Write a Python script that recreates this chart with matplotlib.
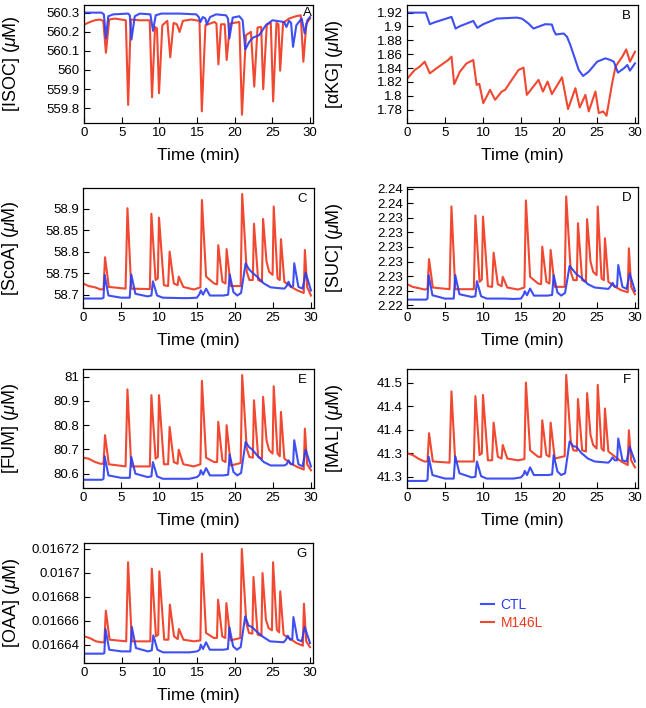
import matplotlib
matplotlib.use("Agg")
import matplotlib.pyplot as plt

plt.rcParams["font.family"] = ["Liberation Sans", "DejaVu Sans"]
plt.rcParams["mathtext.fontset"] = "custom"
plt.rcParams["mathtext.rm"] = "Liberation Sans"
plt.rcParams["mathtext.it"] = "Liberation Sans:italic"

# ============================================================
# DATA
# ============================================================

# panel A - isocitrate
isoc_t_ctl = [0, 2.33, 2.64, 2.91, 3.22, 3.88, 5.86, 6.08, 6.3, 6.74, 7.4, 8.81, 9.16, 9.52, 10.26,
              12.69, 14.89, 15.24, 15.46, 15.77, 16.12, 16.3, 16.74, 17.53, 18.85, 19.12, 19.3, 19.74,
              20.62, 21.06, 21.41, 21.94, 22.47, 23.26, 24.14, 25.02, 26.56, 26.87, 27.22, 27.49, 27.75,
              28.19, 28.9, 29.3, 29.65, 30.0]
isoc_ctl = [560.300, 560.300, 560.291, 560.165, 560.281, 560.291, 560.295, 560.286, 560.159, 560.281,
            560.295, 560.291, 560.205, 560.286, 560.295, 560.295, 560.291, 560.277, 560.251, 560.277,
            560.269, 560.239, 560.277, 560.291, 560.286, 560.269, 560.165, 560.274, 560.281, 560.260,
            560.107, 560.147, 560.170, 560.182, 560.234, 560.260, 560.251, 560.225, 560.257, 560.246,
            560.121, 560.234, 560.269, 560.191, 560.260, 560.277]
isoc_t_mut = [0, 0.79, 1.45, 2.11, 2.56, 2.91, 3.35, 4.1, 5.55, 5.86, 6.21, 7.4, 8.72, 9.03, 9.43,
              9.69, 9.96, 10.4, 11.06, 11.45, 11.89, 12.33, 12.69, 13.13, 14.23, 15.33, 15.64, 16.12,
              17.31, 17.58, 17.84, 18.19, 18.68, 18.94, 19.38, 20.62, 20.97, 21.5, 22.16, 22.6, 23.04,
              23.52, 23.79, 24.27, 24.8, 25.11, 25.55, 25.81, 26.04, 26.43, 27.22, 28.11, 28.77, 29.12,
              29.52, 30.0]
isoc_mut = [560.237, 560.251, 560.260, 560.264, 560.257, 560.090, 560.264, 560.269, 560.260, 559.817,
            560.264, 560.260, 560.260, 559.857, 560.225, 560.217, 559.878, 560.234, 560.257, 560.066,
            560.246, 560.239, 560.199, 560.257, 560.264, 560.257, 559.783, 560.234, 560.251, 560.243,
            560.029, 560.239, 560.239, 560.052, 560.243, 560.251, 559.765, 560.182, 560.199, 559.913,
            560.222, 560.225, 559.899, 560.239, 560.246, 559.835, 560.246, 560.239, 559.996, 560.246,
            560.269, 560.281, 560.286, 560.043, 560.243, 560.269]

# panel B - alpha-ketoglutarate
akg_t_ctl = [0, 2.47, 3.0, 3.66, 5.86, 6.39, 6.96, 8.72, 9.25, 10.04, 11.81, 14.45, 15.11, 15.55,
             15.99, 16.65, 18.19, 19.07, 19.3, 19.6, 20.62, 21.06, 21.5, 21.94, 22.6, 23.17, 23.92,
             25.02, 26.12, 26.78, 27.22, 27.75, 28.55, 28.99, 29.34, 30.0]
akg_ctl = [1.9200, 1.9200, 1.9033, 1.9061, 1.9138, 1.8970, 1.9004, 1.9080, 1.8980, 1.9033,
           1.9114, 1.9128, 1.9114, 1.9080, 1.9042, 1.8970, 1.9033, 1.9028, 1.8946, 1.8884,
           1.8899, 1.8851, 1.8731, 1.8588, 1.8372, 1.8286, 1.8348, 1.8492, 1.8540, 1.8516,
           1.8492, 1.8334, 1.8396, 1.8444, 1.8363, 1.8468]
akg_t_mut = [0, 1.01, 1.67, 2.33, 3.0, 3.88, 5.42, 5.86, 6.21, 6.96, 7.84, 8.72, 9.16, 9.52, 10.04,
             10.93, 11.59, 12.47, 12.91, 14.67, 15.33, 15.77, 17.31, 17.89, 18.5, 19.07, 20.4, 21.19,
             22.16, 22.73, 23.48, 23.92, 24.8, 25.24, 25.81, 26.26, 27.0, 27.44, 28.33, 28.85, 29.34,
             30.0]
akg_mut = [1.8243, 1.8372, 1.8420, 1.8492, 1.8324, 1.8396, 1.8516, 1.8564, 1.8166, 1.8348,
           1.8468, 1.8516, 1.8157, 1.8171, 1.7894, 1.8085, 1.7942, 1.8061, 1.8085, 1.8372,
           1.8406, 1.8013, 1.8229, 1.8061, 1.8205, 1.8023, 1.8267, 1.7808, 1.8109, 1.7831,
           1.8013, 1.7774, 1.8061, 1.7750, 1.7774, 1.7712, 1.8181, 1.8420, 1.8564, 1.8669,
           1.8492, 1.8635]

# panels C-G share their sample times
t_ctl = [0, 2.5, 2.7, 2.85, 3.35, 5.0, 6.15, 6.35, 6.9, 8.5,
         9.0, 9.2, 9.75, 10.5, 13.0, 14.0, 15.0, 15.35, 15.5, 15.8,
         16.2, 16.7, 18.5, 19.1, 19.3, 19.8, 20.3, 20.8, 21.4, 21.85,
         22.3, 22.9, 23.8, 24.7, 26.5, 26.8, 27.05, 27.35, 27.65, 27.8,
         28.35, 28.9, 29.3, 30.0]
t_mut = [0, 0.75, 1.6, 2.3, 2.7, 2.9, 3.4, 5.6, 5.85, 6.35,
         8.8, 9.0, 9.55, 9.85, 10.0, 10.65, 11.2, 11.4, 11.95, 12.45,
         12.6, 13.2, 14.6, 15.45, 15.65, 16.2, 17.25, 17.65, 17.8, 18.35,
         18.75, 18.9, 19.45, 20.75, 20.95, 21.55, 21.9, 22.35, 22.5, 23.05,
         23.55, 23.7, 24.15, 24.5, 24.95, 25.1, 25.6, 25.9, 26.05, 26.5,
         27.4, 28.2, 29.05, 29.2, 29.5, 30.0]

scoa_ctl = [58.691, 58.691, 58.693, 58.746, 58.698, 58.693, 58.693, 58.747, 58.702, 58.696,
            58.698, 58.731, 58.698, 58.693, 58.692, 58.692, 58.693, 58.702, 58.710, 58.700,
            58.714, 58.698, 58.698, 58.700, 58.747, 58.706, 58.698, 58.704, 58.773, 58.759,
            58.751, 58.742, 58.726, 58.717, 58.714, 58.720, 58.730, 58.718, 58.720, 58.773,
            58.718, 58.714, 58.751, 58.710]
scoa_mut = [58.726, 58.720, 58.717, 58.712, 58.713, 58.787, 58.718, 58.714, 58.901, 58.714,
            58.713, 58.888, 58.734, 58.738, 58.879, 58.722, 58.720, 58.800, 58.726, 58.722,
            58.742, 58.718, 58.712, 58.717, 58.920, 58.742, 58.726, 58.724, 58.815, 58.730,
            58.726, 58.806, 58.720, 58.720, 58.934, 58.753, 58.734, 58.734, 58.865, 58.734,
            58.730, 58.876, 58.777, 58.753, 58.746, 58.905, 58.738, 58.734, 58.829, 58.730,
            58.718, 58.710, 58.704, 58.804, 58.718, 58.698]

suc_ctl = [2.22278, 2.22278, 2.22292, 2.22614, 2.22338, 2.22292, 2.22292, 2.22614, 2.22352, 2.22315,
           2.22324, 2.22531, 2.22324, 2.22292, 2.22292, 2.22287, 2.22292, 2.22347, 2.22393, 2.22338,
           2.22430, 2.22333, 2.22333, 2.22342, 2.22614, 2.22375, 2.22333, 2.22370, 2.22742, 2.22683,
           2.22627, 2.22582, 2.22490, 2.22444, 2.22425, 2.22462, 2.22508, 2.22453, 2.22462, 2.22752,
           2.22453, 2.22425, 2.22637, 2.22398]
suc_mut = [2.22490, 2.22453, 2.22434, 2.22416, 2.22425, 2.22834, 2.22444, 2.22421, 2.23556, 2.22421,
           2.22421, 2.23432, 2.22522, 2.22554, 2.23418, 2.22462, 2.22453, 2.22922, 2.22490, 2.22462,
           2.22591, 2.22444, 2.22416, 2.22444, 2.23639, 2.22591, 2.22499, 2.22490, 2.23005, 2.22522,
           2.22499, 2.22959, 2.22453, 2.22453, 2.23694, 2.22660, 2.22545, 2.22545, 2.23326, 2.22545,
           2.22522, 2.23382, 2.22798, 2.22660, 2.22614, 2.23556, 2.22568, 2.22545, 2.23120, 2.22522,
           2.22453, 2.22407, 2.22379, 2.22982, 2.22453, 2.22352]

fum_ctl = [80.575, 80.575, 80.579, 80.672, 80.593, 80.583, 80.583, 80.669, 80.600, 80.586,
           80.589, 80.648, 80.589, 80.579, 80.579, 80.579, 80.586, 80.596, 80.614, 80.596,
           80.623, 80.593, 80.593, 80.596, 80.679, 80.607, 80.593, 80.603, 80.731, 80.710,
           80.699, 80.676, 80.648, 80.634, 80.634, 80.639, 80.655, 80.639, 80.639, 80.738,
           80.639, 80.630, 80.699, 80.630]
fum_mut = [80.666, 80.662, 80.648, 80.641, 80.641, 80.759, 80.639, 80.630, 80.948, 80.630,
           80.630, 80.924, 80.662, 80.669, 80.924, 80.639, 80.639, 80.793, 80.648, 80.641,
           80.699, 80.639, 80.630, 80.639, 80.983, 80.666, 80.648, 80.648, 80.814, 80.655,
           80.648, 80.800, 80.634, 80.644, 81.007, 80.703, 80.669, 80.666, 80.903, 80.669,
           80.662, 80.917, 80.738, 80.697, 80.683, 80.961, 80.683, 80.672, 80.855, 80.662,
           80.641, 80.628, 80.617, 80.786, 80.639, 80.614]

mal_ctl = [41.293, 41.293, 41.295, 41.334, 41.303, 41.297, 41.297, 41.335, 41.306, 41.299,
           41.300, 41.326, 41.301, 41.297, 41.297, 41.297, 41.299, 41.304, 41.310, 41.303,
           41.316, 41.303, 41.303, 41.304, 41.337, 41.309, 41.303, 41.306, 41.360, 41.352,
           41.351, 41.341, 41.331, 41.326, 41.324, 41.328, 41.333, 41.328, 41.328, 41.365,
           41.328, 41.326, 41.351, 41.326]
mal_mut = [41.340, 41.337, 41.330, 41.326, 41.326, 41.374, 41.326, 41.324, 41.445, 41.326,
           41.326, 41.437, 41.337, 41.340, 41.439, 41.328, 41.328, 41.392, 41.334, 41.331,
           41.354, 41.331, 41.328, 41.330, 41.460, 41.345, 41.334, 41.334, 41.396, 41.337,
           41.334, 41.392, 41.331, 41.335, 41.473, 41.360, 41.345, 41.344, 41.432, 41.345,
           41.343, 41.442, 41.371, 41.354, 41.348, 41.456, 41.348, 41.344, 41.416, 41.343,
           41.334, 41.326, 41.320, 41.379, 41.328, 41.316]

oaa_ctl = [0.0166325, 0.0166325, 0.0166330, 0.0166531, 0.0166358, 0.0166344, 0.0166344, 0.0166548, 0.0166372, 0.0166344,
           0.0166353, 0.0166478, 0.0166358, 0.0166336, 0.0166336, 0.0166336, 0.0166344, 0.0166358, 0.0166400, 0.0166364,
           0.0166420, 0.0166358, 0.0166358, 0.0166364, 0.0166545, 0.0166386, 0.0166358, 0.0166380, 0.0166637, 0.0166559,
           0.0166548, 0.0166511, 0.0166464, 0.0166428, 0.0166420, 0.0166442, 0.0166475, 0.0166442, 0.0166447, 0.0166631,
           0.0166442, 0.0166428, 0.0166548, 0.0166414]
oaa_mut = [0.0166470, 0.0166456, 0.0166428, 0.0166420, 0.0166420, 0.0166684, 0.0166442, 0.0166428, 0.0167089, 0.0166428,
           0.0166428, 0.0167036, 0.0166470, 0.0166484, 0.0167013, 0.0166442, 0.0166442, 0.0166735, 0.0166470, 0.0166447,
           0.0166531, 0.0166442, 0.0166428, 0.0166436, 0.0167161, 0.0166498, 0.0166456, 0.0166456, 0.0166776, 0.0166470,
           0.0166456, 0.0166748, 0.0166436, 0.0166456, 0.0167200, 0.0166581, 0.0166498, 0.0166492, 0.0166966, 0.0166484,
           0.0166475, 0.0166999, 0.0166609, 0.0166539, 0.0166520, 0.0167089, 0.0166525, 0.0166503, 0.0166846, 0.0166484,
           0.0166447, 0.0166414, 0.0166392, 0.0166743, 0.0166428, 0.0166380]

# y ticks and their printed labels
isoc_ticks = [559.8, 559.9, 560.0, 560.1, 560.2, 560.3]
isoc_labels = ["559.8", "559.9", "560", "560.1", "560.2", "560.3"]
akg_ticks = [1.78, 1.80, 1.82, 1.84, 1.86, 1.88, 1.90, 1.92]
akg_labels = ["1.78", "1.8", "1.82", "1.84", "1.86", "1.88", "1.9", "1.92"]
scoa_ticks = [58.70, 58.75, 58.80, 58.85, 58.90]
scoa_labels = ["58.7", "58.75", "58.8", "58.85", "58.9"]
suc_ticks = [2.222, 2.224, 2.226, 2.228, 2.230, 2.232, 2.234, 2.236, 2.238]
suc_labels = ["2.22", "2.22", "2.23", "2.23", "2.23", "2.23", "2.23", "2.24", "2.24"]
fum_ticks = [80.6, 80.7, 80.8, 80.9, 81.0]
fum_labels = ["80.6", "80.7", "80.8", "80.9", "81"]
mal_ticks = [41.30, 41.34, 41.38, 41.42, 41.46]
mal_labels = ["41.3", "41.3", "41.4", "41.4", "41.5"]
oaa_ticks = [0.01664, 0.01666, 0.01668, 0.01670, 0.01672]
oaa_labels = ["0.01664", "0.01666", "0.01668", "0.0167", "0.01672"]

x_ticks = [0, 5, 10, 15, 20, 25, 30]

# ============================================================
# STYLE / LAYOUT
# ============================================================

BLUE = "#2a3cf2"
RED = "#f0381f"

W, H = 646, 708

def rect(left, top, right, bottom):
    return [left / W, 1 - bottom / H, (right - left) / W, (bottom - top) / H]

panels = [
    ("A", rect(84, 5, 313, 123), "[ISOC] ($\\mu$M)", isoc_t_ctl, isoc_ctl, isoc_t_mut, isoc_mut,
     (559.722, 560.340), isoc_ticks, isoc_labels, (0.975, 0.93)),
    ("B", rect(407, 5, 638, 123), "[\u03b1KG] ($\\mu$M)", akg_t_ctl, akg_ctl, akg_t_mut, akg_mut,
     (1.7607, 1.931), akg_ticks, akg_labels, (0.95, 0.905)),
    ("C", rect(83, 188, 314, 308), "[ScoA] ($\\mu$M)", t_ctl, scoa_ctl, t_mut, scoa_mut,
     (58.669, 58.948), scoa_ticks, scoa_labels, (0.95, 0.905)),
    ("D", rect(407, 187, 638, 308), "[SUC] ($\\mu$M)", t_ctl, suc_ctl, t_mut, suc_mut,
     (2.22163, 2.23823), suc_ticks, suc_labels, (0.95, 0.905)),
    ("E", rect(83, 369, 314, 488), "[FUM] ($\\mu$M)", t_ctl, fum_ctl, t_mut, fum_mut,
     (80.541, 81.032), fum_ticks, fum_labels, (0.95, 0.905)),
    ("F", rect(407, 369, 638, 488), "[MAL] ($\\mu$M)", t_ctl, mal_ctl, t_mut, mal_mut,
     (41.281, 41.483), mal_ticks, mal_labels, (0.95, 0.905)),
    ("G", rect(84, 543, 313, 663), "[OAA] ($\\mu$M)", t_ctl, oaa_ctl, t_mut, oaa_mut,
     (0.0166247, 0.016725), oaa_ticks, oaa_labels, (0.95, 0.905)),
]

# ============================================================
# PLOTS
# ============================================================

fig = plt.figure(figsize=(W / 100, H / 100), dpi=100)

for letter, pos, ylab, tc, yc, tm, ym, ylim, yt, ytl, lpos in panels:
    ax = fig.add_axes(pos)
    l_mut, = ax.plot(tm, ym, color=RED, lw=1.5, alpha=0.92)
    l_ctl, = ax.plot(tc, yc, color=BLUE, lw=1.5, alpha=0.9)
    ax.set_xlim(0, 30.4)
    ax.set_ylim(*ylim)
    ax.set_xticks(x_ticks)
    ax.set_yticks(yt)
    ax.set_yticklabels(ytl)
    ax.tick_params(direction="in", length=4, width=0.8, labelsize=9.5, pad=3)
    for sp in ax.spines.values():
        sp.set_linewidth(0.9)
    ax.set_xlabel("Time (min)", fontsize=12.5)
    ax.xaxis.set_label_coords(0.5, -0.21)
    ax.set_ylabel(ylab, fontsize=13)
    ax.yaxis.set_label_coords(-0.27, 0.5)
    ax.text(lpos[0], lpos[1], letter, transform=ax.transAxes,
            ha="center", va="center", fontsize=9.5)

fig.legend([l_ctl, l_mut], ["CTL", "M146L"], loc="center left",
           bbox_to_anchor=(481 / W, 1 - 614 / H), frameon=False,
           handlelength=0.9, handletextpad=0.5, labelspacing=0.25,
           borderpad=0, borderaxespad=0, fontsize=10, labelcolor="linecolor")

fig.savefig("out.png", dpi=100)
